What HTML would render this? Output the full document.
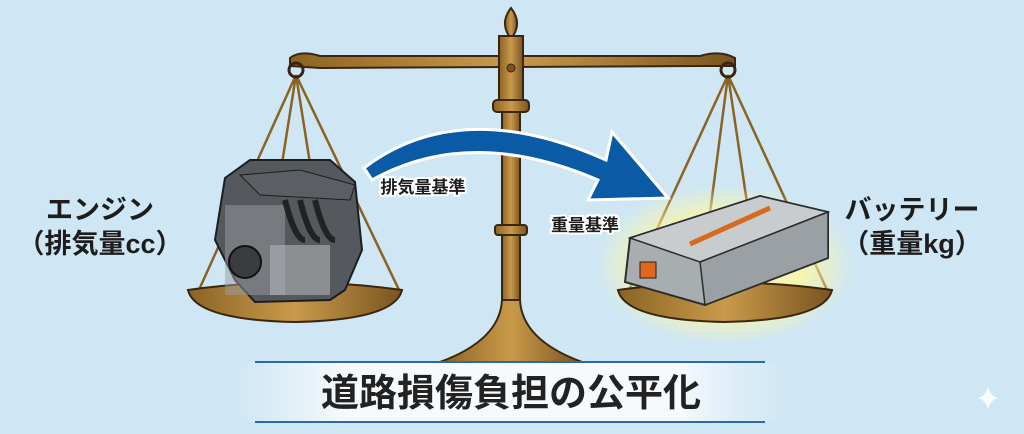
<!DOCTYPE html>
<html><head><meta charset="utf-8"><style>
html,body{margin:0;padding:0}
body{width:1024px;height:434px;overflow:hidden;background:#cfe7f4;font-family:"Liberation Sans","Noto Sans CJK JP",sans-serif}
svg{position:absolute;left:0;top:0}
</style></head><body>
<svg width="1024" height="434" viewBox="0 0 1024 434">
<defs>
<linearGradient id="gold" x1="0" x2="1"><stop offset="0" stop-color="#8a6324"/><stop offset=".5" stop-color="#c99a4a"/><stop offset="1" stop-color="#7a5420"/></linearGradient>
<linearGradient id="ban" x1="0" x2="1"><stop offset="0" stop-color="#e6f2f9" stop-opacity="0"/><stop offset=".2" stop-color="#f6fafc"/><stop offset=".8" stop-color="#f6fafc"/><stop offset="1" stop-color="#e6f2f9" stop-opacity="0"/></linearGradient>
<radialGradient id="glow"><stop offset=".6" stop-color="#fff7a0"/><stop offset="1" stop-color="#fff7a0" stop-opacity="0"/></radialGradient>
</defs>
<rect width="1024" height="434" fill="#cfe7f4"/>
<g stroke="#8a6324" stroke-width="2.5" fill="none">
<path d="M296 75 L198 292 M296 75 L400 292 M296 75 L262 290 M296 75 L330 290"/>
<path d="M728 75 L628 292 M728 75 L828 292 M728 75 L700 290 M728 75 L760 290"/>
</g>
<path d="M290 58 Q300 50 320 56 L700 56 Q720 50 735 58 L735 66 L700 66 L320 68 L290 66Z" fill="url(#gold)" stroke="#3a2610" stroke-width="2"/>
<circle cx="296" cy="70" r="7" fill="none" stroke="#3a2610" stroke-width="3"/>
<circle cx="728" cy="70" r="7" fill="none" stroke="#3a2610" stroke-width="3"/>
<path d="M511 8 Q522 22 513 36 L509 36 Q500 22 511 8Z" fill="url(#gold)" stroke="#3a2610" stroke-width="2"/>
<rect x="499" y="36" width="24" height="70" fill="url(#gold)" stroke="#3a2610" stroke-width="2"/>
<circle cx="511" cy="68" r="4" fill="#7a5420" stroke="#3a2610"/>
<rect x="493" y="100" width="36" height="12" rx="4" fill="url(#gold)" stroke="#3a2610" stroke-width="2"/>
<rect x="502" y="112" width="18" height="220" fill="url(#gold)" stroke="#3a2610" stroke-width="2"/>
<rect x="495" y="225" width="32" height="10" rx="3" fill="url(#gold)" stroke="#3a2610" stroke-width="2"/>
<path d="M502 300 Q500 340 440 362 L582 362 Q522 340 520 300Z" fill="url(#gold)" stroke="#3a2610" stroke-width="2"/>
<!-- arrow -->
<path d="M364 168 Q460 95 606 160 L612 132 L668 198 L588 200 L598 180 Q470 125 372 180Z" fill="#0a5aa6" stroke="#fff" stroke-width="3"/>
<path d="M188 290 Q295 275 402 290 Q395 320 295 322 Q195 320 188 290Z" fill="url(#gold)" stroke="#3a2610" stroke-width="2"/>
<!-- engine -->
<path d="M225 178 L250 160 L330 160 L355 182 L362 250 L345 290 L330 300 L255 302 L235 280 L215 240Z" fill="#55585c" stroke="#1c1d20" stroke-width="2"/>
<path d="M240 175 L300 170 L355 185 L350 200 L260 195Z" fill="#5b5e63" stroke="#1c1d20"/>
<rect x="225" y="205" width="60" height="90" fill="#9a9ea2" opacity=".5"/>
<g fill="none" stroke="#222" stroke-width="6"><path d="M285 200 q10 40 20 40 M300 200 q10 40 20 40 M315 200 q10 40 20 40"/></g>
<circle cx="245" cy="262" r="16" fill="#3a3c40" stroke="#111" stroke-width="2"/>
<rect x="270" y="245" width="60" height="50" fill="#b0b3b6" opacity=".6"/>
<ellipse cx="725" cy="265" rx="130" ry="80" fill="url(#glow)" opacity=".8"/>
<path d="M618 290 Q725 275 832 290 Q825 320 725 322 Q625 320 618 290Z" fill="url(#gold)" stroke="#3a2610" stroke-width="2"/>
<!-- battery -->
<path d="M630 238 L760 196 L828 212 L828 258 L705 305 L625 282Z" fill="#a8adb0" stroke="#2a2c2e" stroke-width="2"/>
<path d="M630 238 L760 196 L828 212 L700 262Z" fill="#c8cccf" stroke="#2a2c2e" stroke-width="1.5"/>
<path d="M700 262 L828 212 L828 258 L705 305Z" fill="#9aa0a4" stroke="#2a2c2e" stroke-width="1.5"/>
<path d="M690 244 L770 208" stroke="#d86a1c" stroke-width="5"/>
<rect x="640" y="262" width="16" height="16" fill="#e0671c" stroke="#222"/>
<rect x="230" y="362" width="560" height="60" fill="url(#ban)"/>
<line x1="255" y1="362" x2="765" y2="362" stroke="#2a6aa8" stroke-width="2"/>
<line x1="255" y1="422" x2="765" y2="422" stroke="#2a6aa8" stroke-width="2"/>
<g font-family="Liberation Sans, Noto Sans CJK JP, sans-serif" font-weight="bold" fill="#1d1d1d">
<text x="511" y="406" font-size="38" text-anchor="middle" fill="#222">道路損傷負担の公平化</text>
<text x="100" y="219" font-size="27" text-anchor="middle">エンジン</text>
<text x="100" y="253" font-size="27" text-anchor="middle">（排気量cc）</text>
<text x="912" y="219" font-size="27" text-anchor="middle">バッテリー</text>
<text x="912" y="253" font-size="27" text-anchor="middle">（重量kg）</text>
<g stroke="#fff" stroke-width="4" paint-order="stroke">
<text x="423" y="193" font-size="17" text-anchor="middle">排気量基準</text>
<text x="585" y="231" font-size="17" text-anchor="middle">重量基準</text>
</g>
</g>
<path d="M988 386 Q990 396 998 398 Q990 400 988 410 Q986 400 978 398 Q986 396 988 386Z" fill="#fff" opacity=".85"/>
</svg>
</body></html>
